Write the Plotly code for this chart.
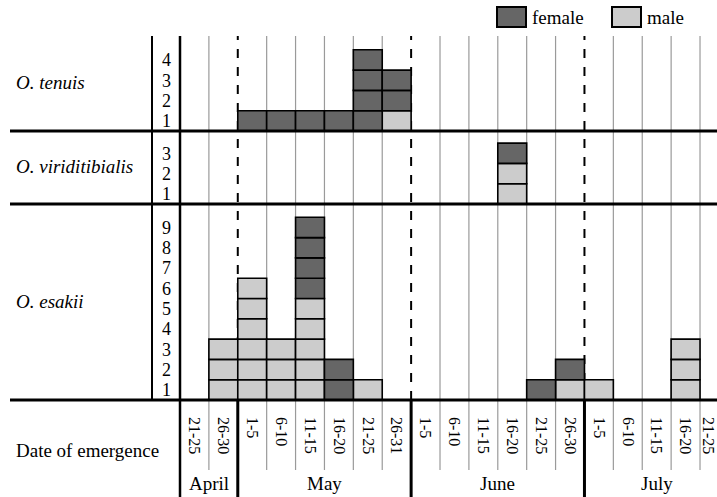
import plotly.graph_objects as go

W, H = 717, 497
FONT = "Liberation Serif"

# ---- data ----
months = ["April", "May", "June", "July"]
month_days = [
    ["21-25", "26-30"],
    ["1-5", "6-10", "11-15", "16-20", "21-25", "26-31"],
    ["1-5", "6-10", "11-15", "16-20", "21-25", "26-30"],
    ["1-5", "6-10", "11-15", "16-20", "21-25"],
]
species = ["O. tenuis", "O. viriditibialis", "O. esakii"]

# counts per 5-day period (19 periods: Apr 21-25 ... Jul 21-25)
tenuis_male =   [0, 0, 0, 0, 0, 0, 0, 1, 0, 0, 0, 0, 0, 0, 0, 0, 0, 0, 0]
tenuis_female = [0, 0, 1, 1, 1, 1, 4, 2, 0, 0, 0, 0, 0, 0, 0, 0, 0, 0, 0]
virid_male =    [0, 0, 0, 0, 0, 0, 0, 0, 0, 0, 0, 2, 0, 0, 0, 0, 0, 0, 0]
virid_female =  [0, 0, 0, 0, 0, 0, 0, 0, 0, 0, 0, 1, 0, 0, 0, 0, 0, 0, 0]
esakii_male =   [0, 3, 6, 3, 5, 0, 1, 0, 0, 0, 0, 0, 0, 1, 1, 0, 0, 3, 0]
esakii_female = [0, 0, 0, 0, 4, 2, 0, 0, 0, 0, 0, 0, 1, 1, 0, 0, 0, 0, 0]

y_ticks = [4, 3, 9]  # max tick per panel

FEMALE = "#666666"
MALE = "#cccccc"

def py(y):
    return 1 - y / H

def px(x):
    return x / W

# geometry
X0 = 180  # left edge of first column (px)
COLW = 28.89
UNIT = 20.3
panel_px = [(36, 131), (131, 204), (204, 400)]  # top, bottom in px

labels = [d for m in month_days for d in m]
ncol = len(labels)
xs = list(range(ncol))
xmax = -0.5 + (W - X0) / COLW
# labels whose column centre leaves room for the text inside the figure go on the axis
axis_cols = [c for c in xs if c + 0.3 < xmax]
edge_cols = [c for c in xs if c not in axis_cols]

fig = go.Figure()

data = [(tenuis_male, tenuis_female), (virid_male, virid_female), (esakii_male, esakii_female)]
for i, (male, female) in enumerate(data):
    ya = "y" if i == 0 else f"y{i+1}"
    for sex, counts, color in (("male", male, MALE), ("female", female, FEMALE)):
        bx, bb = [], []
        for c in xs:
            start = male[c] if sex == "female" else 0
            for k in range(counts[c]):
                bx.append(c)
                bb.append(start + k)
        fig.add_trace(go.Bar(
            x=bx, y=[1] * len(bx), base=bb, width=1, yaxis=ya, xaxis="x",
            marker=dict(color=color, line=dict(color="black", width=1.6)),
            showlegend=False, hoverinfo="skip",
        ))

layout = dict(
    width=W, height=H, margin=dict(l=0, r=0, t=0, b=0),
    paper_bgcolor="white", plot_bgcolor="rgba(0,0,0,0)",
    barmode="overlay", showlegend=False,
    font=dict(family=FONT, size=18, color="black"),
    xaxis=dict(
        domain=[px(X0), 1], range=[-0.5, xmax],
        anchor="y3", tickvals=axis_cols, ticktext=[labels[c] for c in axis_cols], tickangle=90,
        showgrid=False, zeroline=False, showline=False, ticks="",
        tickfont=dict(family=FONT, size=16), ticklabelstandoff=16,
    ),
)
for i, (top, bot) in enumerate(panel_px):
    key = "yaxis" if i == 0 else f"yaxis{i+1}"
    n = y_ticks[i]
    layout[key] = dict(
        domain=[py(bot), py(top)], range=[0, (bot - top) / UNIT],
        anchor="x", tickvals=[k + 0.5 for k in range(n)],
        ticktext=[str(k + 1) for k in range(n)],
        showgrid=False, zeroline=False, showline=False, ticks="",
        tickfont=dict(family=FONT, size=18), ticklabelstandoff=8,
    )
fig.update_layout(**layout)

shapes = []
# month boundaries (column index)
bounds = []
acc = 0
for m in month_days[:-1]:
    acc += len(m)
    bounds.append(acc)
for k in range(1, ncol + 1):
    xb = k - 0.5
    if k in bounds:
        shapes.append(dict(type="line", xref="x", yref="paper", x0=xb, x1=xb,
                           y0=py(400), y1=py(36), line=dict(color="black", width=2, dash="dash"),
                           layer="below"))
        shapes.append(dict(type="line", xref="x", yref="paper", x0=xb, x1=xb,
                           y0=py(497), y1=py(400), line=dict(color="black", width=3)))
    else:
        shapes.append(dict(type="line", xref="x", yref="paper", x0=xb, x1=xb,
                           y0=py(470), y1=py(36), line=dict(color="#9a9a9a", width=1.2),
                           layer="below"))
# left frame lines
shapes.append(dict(type="line", xref="paper", yref="paper", x0=px(152), x1=px(152),
                   y0=py(400), y1=py(36), line=dict(color="black", width=2)))
shapes.append(dict(type="line", xref="paper", yref="paper", x0=px(X0), x1=px(X0),
                   y0=py(497), y1=py(36), line=dict(color="black", width=2.5)))
# thick horizontal separators
for yy in (131, 204, 400):
    shapes.append(dict(type="line", xref="paper", yref="paper", x0=px(10), x1=1,
                       y0=py(yy), y1=py(yy), line=dict(color="black", width=3)))
# legend boxes
for x0, col in ((497, FEMALE), (612, MALE)):
    shapes.append(dict(type="rect", xref="paper", yref="paper", x0=px(x0), x1=px(x0 + 29),
                       y0=py(27), y1=py(7), fillcolor=col, line=dict(color="black", width=2)))
fig.update_layout(shapes=shapes)

ann = []
for name, (top, bot) in zip(species, panel_px):
    ann.append(dict(text=f"<i>{name}</i>", x=px(14), y=py((top + bot) / 2 - 1), xref="paper", yref="paper",
                    xanchor="left", yanchor="middle", showarrow=False, font=dict(size=19)))
ann.append(dict(text="Date of emergence", x=px(14), y=py(450), xref="paper", yref="paper",
                xanchor="left", yanchor="middle", showarrow=False, font=dict(size=19)))
acc = 0
for m, days in zip(months, month_days):
    ann.append(dict(text=m, x=acc + (len(days) - 1) / 2, y=py(483), xref="x", yref="paper",
                    xanchor="center", yanchor="middle", showarrow=False, font=dict(size=19)))
    acc += len(days)
for x0, t in ((530, "female"), (645, "male")):
    ann.append(dict(text=t, x=px(x0), y=py(17), xref="paper", yref="paper",
                    xanchor="left", yanchor="middle", showarrow=False, font=dict(size=19)))
# label of the last (partly visible) column, kept inside the figure edge
for c in edge_cols:
    ann.append(dict(text=labels[c], x=1, y=py(416), xref="paper", yref="paper", textangle=90,
                    xanchor="right", yanchor="top", showarrow=False, font=dict(size=16),
                    borderpad=0, xshift=1))
fig.update_layout(annotations=ann)

post = "document.body.style.margin='0';document.body.style.overflow='hidden';"
fig.write_html("out.html", config={"displayModeBar": False}, post_script=post)
